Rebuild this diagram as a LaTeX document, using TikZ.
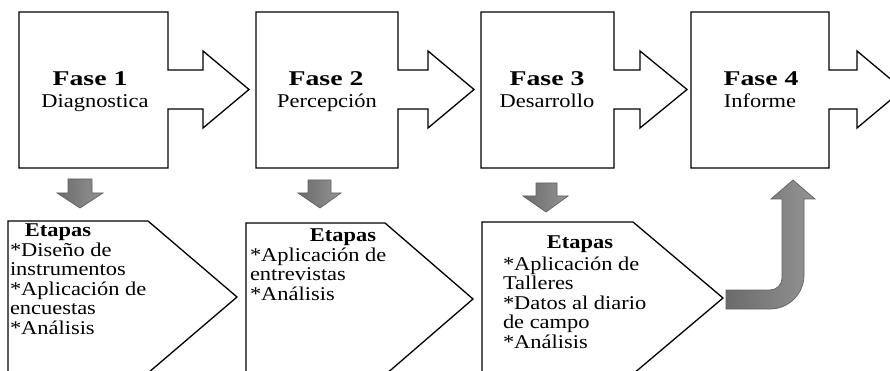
\documentclass[tikz,border=0pt]{standalone}
\usepackage{fontspec}
\usepackage{graphicx}
\setmainfont{Liberation Serif}[FakeStretch=1.15]
\newcommand{\phasebox}[4]{%
  \draw[phase] (#1,12) -- (#2,12) -- (#2,70) -- (#3,70) -- (#3,51) -- (#4,89.5)
    -- (#3,128) -- (#3,109) -- (#2,109) -- (#2,168) -- (#1,168) -- cycle;}
\newcommand{\stagebox}[6]{%
  \draw[stage] (#1,#2) -- (#3,#2) -- (#4,#5) -- (#3,#6) -- (#1,#6) -- cycle;}
% stem left, stem right, stem top, head left, head right, head y, tip x, tip y
\newcommand{\downarrowshape}[8]{%
  \draw[greyarrow] (#1,#3) -- (#2,#3) -- (#2,#6) -- (#5,#6) -- (#7,#8)
    -- (#4,#6) -- (#1,#6) -- cycle;}
\newcommand{\fasetext}[1]{\scalebox{1.15}[1]{\fontsize{21}{21}\selectfont\bfseries #1}}
\begin{document}
\begin{tikzpicture}[x=1pt,y=-1pt,
  phase/.style={draw=black, line width=1.3pt, fill=white, line join=miter},
  stage/.style={draw=black, line width=1.3pt, fill=white, line join=miter},
  greyarrow/.style={draw=black!62, line width=0.7pt, left color=black!58, right color=black!42},
  txt/.style={inner sep=0pt, outer sep=0pt, font=\fontsize{19.5}{19.5}\selectfont}]
\useasboundingbox (0,0) rectangle (890,371);
\clip (0,0) rectangle (890,371);
\fill[white] (0,0) rectangle (890,371);

% top phase boxes
\phasebox{19}{168}{203}{249}
\phasebox{256}{398}{428}{474}
\phasebox{481}{614}{640}{687}
\phasebox{691}{829}{857}{903}

\node[txt, anchor=base] (f1t) at (90,86) {\fasetext{Fase 1}};
\node[txt, anchor=base] (f1n) at (95,108) {Diagnostica};
\node[txt, anchor=base] (f2t) at (326,86) {\fasetext{Fase 2}};
\node[txt, anchor=base] (f2n) at (327,108) {Percepción};
\node[txt, anchor=base] (f3t) at (547,86) {\fasetext{Fase 3}};
\node[txt, anchor=base] (f3n) at (547,108) {Desarrollo};
\node[txt, anchor=base] (f4t) at (761,86) {\fasetext{Fase 4}};
\node[txt, anchor=base] (f4n) at (760,108) {Informe};

% grey down arrows
\downarrowshape{68}{92}{179}{57}{103}{193}{80}{208}
\downarrowshape{308}{331}{180}{298}{341}{193}{320}{208}
\downarrowshape{536}{557}{183}{523}{568}{196}{546}{212}

% stage pentagons
\stagebox{8}{221}{148}{237}{297}{373}
\stagebox{246}{223}{385}{473}{299}{375}
\stagebox{482}{222}{633}{723}{298}{374}

\node[txt, anchor=base] (e1) at (58,236) {\textbf{Etapas}};
\node[txt, anchor=base west] (l1) at (10,256) {\begin{tabular}[t]{@{}l@{}}{}*Diseño de\\{}instrumentos\\{}*Aplicación de\\{}encuestas\\{}*Análisis\end{tabular}};
\node[txt, anchor=base] (e2) at (343,241) {\textbf{Etapas}};
\node[txt, anchor=base west] (l2) at (250,261) {\begin{tabular}[t]{@{}l@{}}{}*Aplicación de\\{}entrevistas\\{}*Análisis\end{tabular}};
\node[txt, anchor=base] (e3) at (580,248) {\textbf{Etapas}};
\node[txt, anchor=base west] (l3) at (503,270) {\begin{tabular}[t]{@{}l@{}}{}*Aplicación de\\{}Talleres\\{}*Datos al diario\\{}de campo\\{}*Análisis\end{tabular}};

% bent arrow up to Fase 4
\draw[greyarrow] (726,290) -- (770,290) .. controls (776.6,290) and (782,284.6) .. (782,278)
  -- (782,199) -- (771,199) -- (793,180) -- (815,199) -- (804,199) -- (804,275)
  .. controls (804,293.8) and (788.8,309) .. (770,309) -- (726,309) -- cycle;
\end{tikzpicture}
\end{document}
